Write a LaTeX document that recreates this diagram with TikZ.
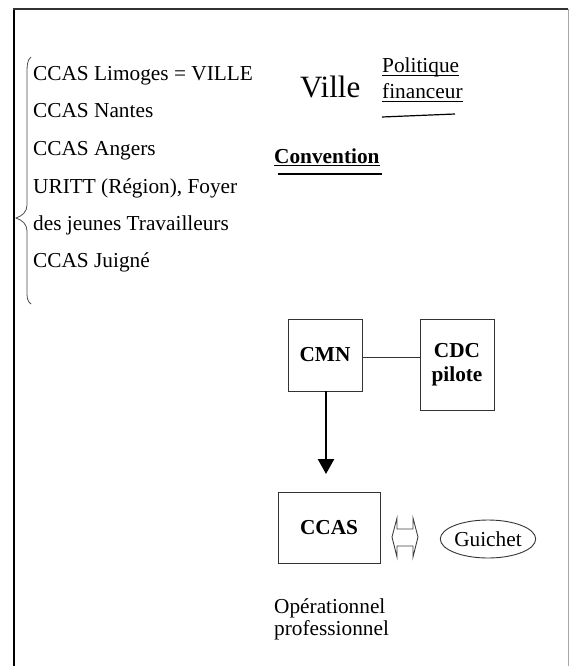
\documentclass[tikz,border=0pt]{standalone}
\usepackage{fontspec}
\setmainfont{Liberation Serif}
\usetikzlibrary{arrows.meta,shapes.geometric,calc}
\begin{document}
\begin{tikzpicture}[x=1bp,y=-1bp,
  txt/.style={font=\fontsize{21.3bp}{24bp}\selectfont, inner sep=0pt, anchor=base west},
  bx/.style={draw=black!80, line width=0.9bp, font=\fontsize{21.3bp}{24bp}\selectfont\bfseries, align=center, inner sep=0pt},
  ln/.style={draw=black!80, line width=0.9bp},
  ul/.style={draw=black, line width=1.2bp}]
\useasboundingbox (0,0) rectangle (569,666);
% frame
\draw[black, line width=2.2bp] (14,666) -- (14,9);
\draw[black!80, line width=2.2bp] (13,9) -- (568,9);
\draw[black!35, line width=1bp] (568,9) -- (568,666);
% brace
\draw[black!70, line width=0.8bp] (31,57) .. controls (27,60) and (27,66) .. (27,75)
  -- (27,205) .. controls (27,212) and (22,216) .. (16,218)
  .. controls (22,220) and (27,224) .. (27,231)
  -- (27,290) .. controls (27,298) and (27,301) .. (31,304);
% list
\node[txt] (l1) at (33,81) {CCAS Limoges = VILLE};
\node[txt] (l2) at (33,118) {CCAS Nantes};
\node[txt] (l3) at (33,155.5) {CCAS Angers};
\node[txt] (l4) at (33,193) {URITT (Région), Foyer};
\node[txt] (l5) at (33,230) {des jeunes Travailleurs};
\node[txt] (l6) at (33,267) {CCAS Juigné};
% Ville
\node[txt, font=\fontsize{31bp}{34bp}\selectfont] (ville) at (300,98) {Ville};
\node[txt] (pol) at (382,73) {Politique};
\node[txt] (fin) at (382,99) {financeur};
\draw[ul] ([yshift=-2.5bp]pol.base west) -- ([yshift=-2.5bp]pol.base east);
\draw[ul] ([yshift=-2.5bp]fin.base west) -- ([yshift=-2.5bp]fin.base east);
\coordinate (s1) at (382,117);
\coordinate (s2) at (455,114);
\draw[ul] (s1) -- (s2);
% Convention
\node[txt, font=\fontsize{21.3bp}{24bp}\selectfont\bfseries] (conv) at (274,163) {Convention};
\draw[ul] ([yshift=-2.5bp]conv.base west) -- ([yshift=-2.5bp]conv.base east);
\coordinate (c1) at (278,174);
\coordinate (c2) at (382,174);
\draw[ul] (c1) -- (c2);
% boxes
\node[bx, minimum width=74bp, minimum height=72bp] (cmn) at (325,355) {CMN};
\node[bx, minimum width=74bp, minimum height=91bp] (cdc) at (457,364.5) {CDC\\pilote};
\node[bx, minimum width=102bp, minimum height=71bp] (ccas) at (329,527.5) {CCAS};
\node[draw=black!80, line width=0.9bp, ellipse, minimum width=88bp, minimum height=38bp, inner sep=0pt,
  font=\fontsize{21.3bp}{24bp}\selectfont] (gui) at (488,539) {Guichet};
% connectors
\draw[ln] ([yshift=-2bp]cmn.east) -- ([yshift=-2bp]cmn.east -| cdc.west);
\coordinate (atip) at (326,474);
\draw[black, line width=2.4bp, -{Triangle[length=15bp,width=16bp]}] ([xshift=1bp]cmn.south) -- (atip);
% double arrow
\coordinate (da) at (405,537);
\draw[black!75, line width=0.9bp, line join=miter]
  ($(da)+(-13,0)$) -- ++(5,-19) -- ++(0,11) -- ++(16,0) -- ++(0,-11) -- ++(5,19)
  -- ++(-5,20) -- ++(0,-11) -- ++(-16,0) -- ++(0,11) -- cycle;
% bottom text
\node[txt] (op1) at (274,613) {Opérationnel};
\node[txt] (op2) at (274,635) {professionnel};
\end{tikzpicture}
\end{document}
